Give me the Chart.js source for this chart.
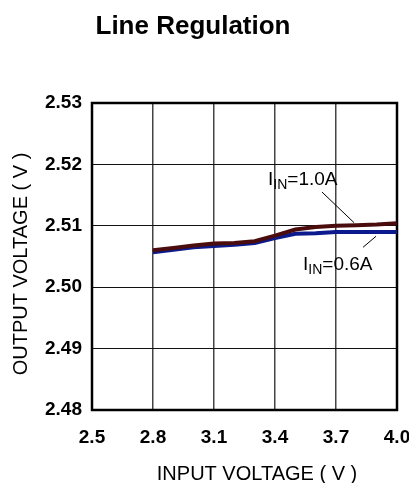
<!DOCTYPE html>
<html>
<head>
<meta charset="utf-8">
<script src="https://cdn.jsdelivr.net/npm/chart.js@4.4.0/dist/chart.umd.min.js"></script>
<style>
  html, body { margin: 0; padding: 0; background: #fff; overflow: hidden; }
  #wrap { width: 430px; height: 483px; }
</style>
</head>
<body>
<div id="wrap"><canvas id="chart"></canvas></div>
<script>
// input voltage (V)
const inputVoltage = [2.8, 2.9, 3.0, 3.1, 3.2, 3.3, 3.4, 3.5, 3.6, 3.7, 3.8, 3.9, 4.0];
// output voltage (V) at I_IN = 1.0A and 0.6A
const vout10A = [2.5060, 2.5064, 2.5068, 2.5071, 2.5072, 2.5075, 2.5084, 2.5094, 2.5098, 2.5100, 2.5101, 2.5102, 2.5104];
const vout06A = [2.5057, 2.5061, 2.5065, 2.5067, 2.5069, 2.5072, 2.5080, 2.5087, 2.5088, 2.5090, 2.5090, 2.5090, 2.5090];

const xTicks = [2.5, 2.8, 3.1, 3.4, 3.7, 4.0];
const yTicks = [2.48, 2.49, 2.50, 2.51, 2.52, 2.53];

const FONT = '"Liberation Sans", Arial, sans-serif';

const toPoints = (xs, ys) => xs.map((x, i) => ({ x: x, y: ys[i] }));

// curve labels, placed in data units
const notes = [
  { sub: 'IN', rest: '=1.0A', x: 3.366, y: 2.5166, from: [3.631, 2.5155], to: [3.789, 2.5105] },
  { sub: 'IN', rest: '=0.6A', x: 3.538, y: 2.5028, from: [3.833, 2.5065], to: [3.897, 2.5083] }
];

const framePlugin = {
  id: 'frame',
  beforeDatasetsDraw(chart) {
    const { ctx, chartArea: a } = chart;
    ctx.save();
    ctx.strokeStyle = '#000';
    ctx.lineWidth = 2.5;
    ctx.strokeRect(a.left, a.top, a.right - a.left, a.bottom - a.top);
    ctx.restore();
  }
};

const textPlugin = {
  id: 'texts',
  afterDraw(chart) {
    const { ctx, scales } = chart;
    const xs = scales.x, ys = scales.y;
    ctx.save();
    ctx.fillStyle = '#000';

    // title
    ctx.font = 'bold 26px ' + FONT;
    ctx.textAlign = 'center';
    ctx.textBaseline = 'alphabetic';
    ctx.fillText('Line Regulation', 193, 34);

    // axis titles
    ctx.font = '20px ' + FONT;
    ctx.fillText('INPUT VOLTAGE ( V )', 257, 480);
    ctx.save();
    ctx.translate(27, 264);
    ctx.rotate(-Math.PI / 2);
    ctx.fillText('OUTPUT VOLTAGE ( V )', 0, 0);
    ctx.restore();

    // curve labels
    ctx.textAlign = 'left';
    notes.forEach(n => {
      let px = xs.getPixelForValue(n.x);
      const py = ys.getPixelForValue(n.y);
      ctx.font = '19px ' + FONT;
      ctx.fillText('I', px, py);
      px += ctx.measureText('I').width;
      ctx.font = '14px ' + FONT;
      ctx.fillText(n.sub, px, py + 4);
      px += ctx.measureText(n.sub).width;
      ctx.font = '19px ' + FONT;
      ctx.fillText(n.rest, px, py);

      ctx.strokeStyle = '#000';
      ctx.lineWidth = 1;
      ctx.beginPath();
      ctx.moveTo(xs.getPixelForValue(n.from[0]), ys.getPixelForValue(n.from[1]));
      ctx.lineTo(xs.getPixelForValue(n.to[0]), ys.getPixelForValue(n.to[1]));
      ctx.stroke();
    });
    ctx.restore();
  }
};

new Chart(document.getElementById('chart'), {
  type: 'scatter',
  data: {
    datasets: [
      {
        label: 'IIN=1.0A',
        data: toPoints(inputVoltage, vout10A),
        showLine: true,
        borderColor: '#4a0c0c',
        borderWidth: 4,
        pointRadius: 0,
        tension: 0
      },
      {
        label: 'IIN=0.6A',
        data: toPoints(inputVoltage, vout06A),
        showLine: true,
        borderColor: '#0b1a8c',
        borderWidth: 4,
        pointRadius: 0,
        tension: 0
      }
    ]
  },
  options: {
    responsive: true,
    maintainAspectRatio: false,
    animation: false,
    layout: { padding: { top: 103, right: 33, left: 0, bottom: 0 } },
    plugins: {
      legend: { display: false },
      tooltip: { enabled: false }
    },
    scales: {
      x: {
        type: 'linear',
        min: 2.5,
        max: 4.0,
        afterBuildTicks: s => { s.ticks = xTicks.map(v => ({ value: v })); },
        afterFit: s => { s.height = 73; },
        grid: { color: '#444', lineWidth: 1.5, drawTicks: false },
        border: { display: false },
        ticks: {
          padding: 16,
          color: '#000',
          font: { family: FONT, size: 19, weight: 'bold' },
          callback: v => v.toFixed(1)
        }
      },
      y: {
        type: 'linear',
        min: 2.48,
        max: 2.53,
        afterBuildTicks: s => { s.ticks = yTicks.map(v => ({ value: v })); },
        afterFit: s => { s.width = 92; },
        grid: { color: '#111', lineWidth: 1, drawTicks: false },
        border: { display: false },
        ticks: {
          padding: 10,
          color: '#000',
          font: { family: FONT, size: 19, weight: 'bold' },
          callback: v => v.toFixed(2)
        }
      }
    }
  },
  plugins: [framePlugin, textPlugin]
});
</script>
</body>
</html>
